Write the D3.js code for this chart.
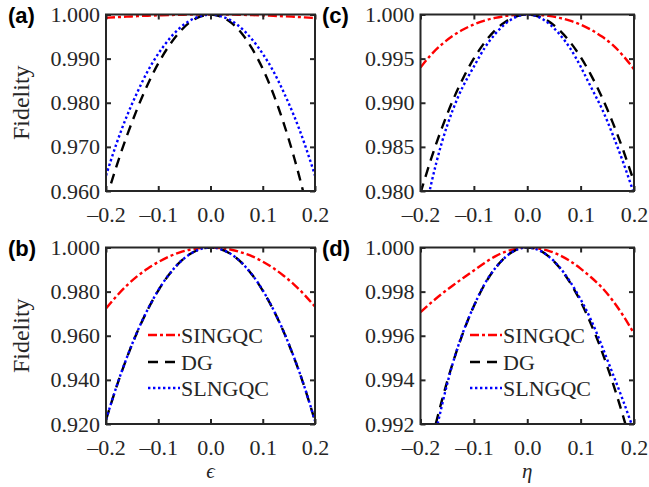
<!DOCTYPE html>
<html><head><meta charset="utf-8">
<script src="https://cdn.jsdelivr.net/npm/d3@7"></script>
<style>
html,body{margin:0;padding:0;background:#fff;}
svg{display:block;}
text{font-family:"Liberation Serif","Times New Roman",serif;fill:#262626;}
</style></head><body>
<svg id="chart" width="649" height="487"></svg>
<script>
// ---- data ----
const xGrid = [-0.20,-0.18,-0.16,-0.14,-0.12,-0.10,-0.08,-0.06,-0.04,-0.02,0,0.02,0.04,0.06,0.08,0.10,0.12,0.14,0.16,0.18,0.20];
const seriesNames = ["SINGQC","DG","SLNGQC"];
const xTicks = [-0.2,-0.1,0.0,0.1,0.2];

const aSINGQC = [0.99925,0.99939,0.99951,0.99963,0.99973,0.99981,0.99988,0.99993,0.99997,0.99999,1.0,0.99999,0.99997,0.99993,0.99987,0.99980,0.99971,0.99961,0.99949,0.99935,0.99918];
const aDG     = [0.9580,0.9656,0.9725,0.9787,0.9842,0.9889,0.9928,0.9959,0.9982,0.9995,1.0000,0.9995,0.9981,0.9957,0.9922,0.9877,0.9821,0.9754,0.9676,0.9586,0.9484];
const aSLNGQC = [0.9635,0.9707,0.9770,0.9824,0.9872,0.9911,0.9943,0.9968,0.9986,0.9996,1.0000,0.9996,0.9986,0.9968,0.9943,0.9911,0.9872,0.9824,0.9770,0.9707,0.9635];
const aYTicks = [0.960,0.970,0.980,0.990,1.000];

const bSINGQC = [0.9724,0.9779,0.9828,0.9870,0.9905,0.9934,0.9958,0.9977,0.9990,0.9997,1.0000,0.9997,0.9990,0.9977,0.9960,0.9936,0.9907,0.9872,0.9832,0.9785,0.9732];
const bDG     = [0.9219,0.9368,0.9501,0.9618,0.9719,0.9805,0.9875,0.9930,0.9969,0.9992,1.0000,0.9992,0.9969,0.9930,0.9875,0.9805,0.9719,0.9618,0.9500,0.9366,0.9213];
const bSLNGQC = [0.9220,0.9369,0.9502,0.9619,0.9720,0.9806,0.9876,0.9930,0.9969,0.9992,1.0000,0.9992,0.9969,0.9930,0.9876,0.9806,0.9720,0.9619,0.9501,0.9367,0.9214];
const bYTicks = [0.920,0.940,0.960,0.980,1.000];

const cSINGQC = [0.9940,0.99545,0.99662,0.99756,0.9983,0.99887,0.99931,0.99962,0.99984,0.99996,1.0,0.99996,0.99984,0.99962,0.9993,0.99885,0.99826,0.9975,0.99655,0.9953,0.9938];
const cDG     = [0.97976,0.98366,0.98713,0.99018,0.99281,0.99502,0.99682,0.99822,0.99921,0.9998,1.0,0.9998,0.99922,0.99825,0.9969,0.99518,0.99308,0.99062,0.98778,0.98459,0.98104];
const cSLNGQC = [0.9752,0.9808,0.9855,0.9891,0.9919,0.9941,0.9962,0.9978,0.9990,0.99975,1.0,0.99975,0.9990,0.9978,0.9962,0.9941,0.9917,0.9893,0.9864,0.9832,0.9797];
const cYTicks = [0.980,0.985,0.990,0.995,1.000];

const dSINGQC = [0.99707,0.99750,0.99790,0.99827,0.99862,0.99896,0.99930,0.99960,0.99982,0.99995,1.0,0.99996,0.99985,0.99966,0.99939,0.99904,0.99864,0.99818,0.99760,0.99690,0.99610];
const dDG     = [0.9890,0.99115,0.99306,0.99473,0.99615,0.99735,0.99832,0.99906,0.99959,0.9999,1.0,0.9999,0.9996,0.9991,0.99842,0.99755,0.9965,0.99528,0.99388,0.99232,0.9906];
const dSLNGQC = [0.9880,0.9906,0.99283,0.99471,0.99618,0.99735,0.99834,0.99906,0.99958,0.9999,1.0,0.9999,0.9996,0.99912,0.99846,0.99765,0.99669,0.99553,0.99429,0.99303,0.99168];
const dYTicks = [0.992,0.994,0.996,0.998,1.000];

// ---- styles ----
const SERIF = "'Liberation Serif','Times New Roman',serif";
const colors = {SINGQC:"#ff0000", DG:"#000000", SLNGQC:"#0000ff"};
const dashes = {SINGQC:"9,3,3,3", DG:"10,7", SLNGQC:"2.4,2.6"};

const svg = d3.select("#chart");
const cols = [[106,315],[420.5,634]];
const rows = [[14.5,191],[247.5,424]];

const panels = [
  {id:"a", col:0,row:0, ys:[aSINGQC,aDG,aSLNGQC], yt:aYTicks, legend:false},
  {id:"b", col:0,row:1, ys:[bSINGQC,bDG,bSLNGQC], yt:bYTicks, legend:true, xlabel:"\u03F5", legX:148},
  {id:"c", col:1,row:0, ys:[cSINGQC,cDG,cSLNGQC], yt:cYTicks, legend:false},
  {id:"d", col:1,row:1, ys:[dSINGQC,dDG,dSLNGQC], yt:dYTicks, legend:true, xlabel:"\u03B7", legX:470},
];

const fmtX = v => { const s = d3.format(".1f")(Math.abs(v)); return v < 0 ? "\u2013"+s : s; };

panels.forEach(p => {
  const [x0,x1] = cols[p.col], [y0,y1] = rows[p.row];
  const x = d3.scaleLinear().domain([-0.2,0.2]).range([x0,x1]);
  const y = d3.scaleLinear().domain([p.yt[0], p.yt[p.yt.length-1]]).range([y1,y0]);
  const g = svg.append("g");

  g.append("clipPath").attr("id","clip"+p.id).append("rect")
    .attr("x",x0).attr("y",y0).attr("width",x1-x0).attr("height",y1-y0);

  const line = d3.line().x((d,i)=>x(xGrid[i])).y(d=>y(d)).curve(d3.curveNatural);
  [0,1,2].forEach(k => {
    const name = seriesNames[k];
    g.append("path").attr("clip-path","url(#clip"+p.id+")")
      .attr("d", line(p.ys[k])).attr("fill","none")
      .attr("stroke",colors[name]).attr("stroke-width",2.4)
      .attr("stroke-dasharray",dashes[name]);
  });

  const fs = "22px";
  const left = g.append("g").attr("transform",`translate(${x0},0)`)
    .call(d3.axisLeft(y).tickValues(p.yt).tickFormat(d3.format(".3f")).tickSize(-5).tickPadding(6));
  const right = g.append("g").attr("transform",`translate(${x1},0)`)
    .call(d3.axisRight(y).tickValues(p.yt).tickFormat("").tickSize(-5));
  const bottom = g.append("g").attr("transform",`translate(0,${y1})`)
    .call(d3.axisBottom(x).tickValues(xTicks).tickFormat(fmtX).tickSize(-5).tickPadding(15));
  const top = g.append("g").attr("transform",`translate(0,${y0})`)
    .call(d3.axisTop(x).tickValues(xTicks).tickFormat("").tickSize(-5));
  [left,right,bottom,top].forEach(a => {
    a.attr("font-family",SERIF).attr("font-size",fs);
    a.select(".domain").remove();
    a.selectAll("line").attr("stroke","#262626").attr("stroke-width",2);
    a.selectAll("text").style("font-family",SERIF).style("font-size",fs).attr("fill","#262626");
  });
  g.append("rect").attr("x",x0).attr("y",y0).attr("width",x1-x0).attr("height",y1-y0)
    .attr("fill","none").attr("stroke","#262626").attr("stroke-width",2);

  // panel label
  g.append("text").attr("x", p.col===0 ? 8 : 322).attr("y", y0+8)
    .style("font-family","'Liberation Sans',Arial,sans-serif").style("font-weight","bold")
    .style("font-size","22px").style("fill","#000").text("("+p.id+")");

  if (p.col===0) {
    g.append("text").attr("transform",`translate(29,${(y0+y1)/2}) rotate(-90)`)
      .attr("text-anchor","middle").style("font-size","24px").text("Fidelity");
  }
  if (p.xlabel) {
    g.append("text").attr("x",(x0+x1)/2).attr("y",y1+54).attr("text-anchor","middle")
      .style("font-size","21px").style("font-style","italic").text(p.xlabel);
  }
  if (p.legend) {
    const lx = p.legX, ly = [335, 362, 388];
    seriesNames.forEach((name,k) => {
      g.append("line").attr("x1",lx).attr("x2",lx+32).attr("y1",ly[k]).attr("y2",ly[k])
        .attr("stroke",colors[name]).attr("stroke-width",2.4).attr("stroke-dasharray",dashes[name]);
      g.append("text").attr("x",lx+33).attr("y",ly[k]+8).style("font-size","22px").text(name);
    });
  }
});
</script>
</body></html>
